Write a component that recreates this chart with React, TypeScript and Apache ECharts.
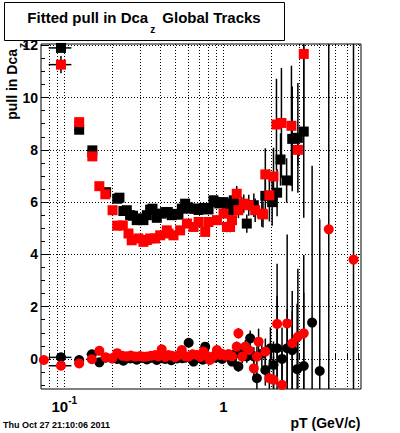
import React, { useEffect, useRef } from "react";
import * as echarts from "echarts";

// [pT, pull, yError, xHalfWidth]
const blackSquares: number[][] = [
  [0.0953, 11.9, 0.12, 0.0155], [0.124, 8.77, 0.1, 0.0085], [0.150, 7.98, 0.1, 0.011],
  [0.183, 6.38, 0.08, 0], [0.215, 6.13, 0.08, 0], [0.222, 6.17, 0.08, 0], [0.235, 5.66, 0.08, 0],
  [0.247, 5.69, 0.08, 0], [0.259, 5.50, 0.08, 0], [0.270, 5.48, 0.08, 0], [0.285, 5.31, 0.08, 0],
  [0.297, 5.38, 0.08, 0], [0.314, 5.31, 0.08, 0], [0.330, 5.50, 0.08, 0], [0.346, 5.71, 0.08, 0],
  [0.358, 5.75, 0.08, 0], [0.381, 5.40, 0.08, 0], [0.409, 5.56, 0.08, 0], [0.430, 5.62, 0.08, 0],
  [0.447, 5.62, 0.08, 0], [0.473, 5.50, 0.08, 0], [0.495, 5.55, 0.08, 0], [0.521, 5.52, 0.08, 0],
  [0.547, 5.75, 0.1, 0], [0.574, 5.94, 0.1, 0], [0.600, 5.80, 0.1, 0], [0.625, 5.75, 0.1, 0],
  [0.660, 5.75, 0.1, 0], [0.697, 5.70, 0.1, 0], [0.731, 5.75, 0.1, 0], [0.765, 5.78, 0.1, 0],
  [0.805, 5.72, 0.12, 0], [0.865, 6.07, 0.12, 0], [0.890, 6.0, 0.12, 0], [0.940, 5.95, 0.15, 0],
  [1.00, 6.0, 0.15, 0], [1.05, 5.94, 0.2, 0], [1.10, 5.69, 0.2, 0], [1.16, 6.07, 0.25, 0],
  [1.22, 5.88, 0.3, 0], [1.30, 5.90, 0.3, 0], [1.40, 5.18, 0.35, 0], [1.55, 5.88, 0.45, 0],
  [1.83, 6.24, 0.8, 0], [2.02, 6.0, 0.9, 0], [2.17, 6.36, 0.9, 0], [2.28, 7.63, 1.0, 0],
  [2.49, 6.83, 0.85, 0], [2.70, 8.42, 2.0, 0], [2.93, 8.46, 2.1, 0], [3.19, 8.70, 3.3, 0],
];

const redSquares: number[][] = [
  [0.0953, 11.26, 0.33, 0.0155], [0.124, 9.06, 0.12, 0.0085], [0.150, 7.75, 0.1, 0.011],
  [0.166, 6.61, 0.08, 0], [0.181, 6.30, 0.08, 0], [0.201, 5.69, 0.08, 0], [0.215, 5.10, 0.08, 0],
  [0.233, 5.11, 0.08, 0], [0.253, 4.80, 0.08, 0], [0.265, 4.54, 0.08, 0], [0.292, 4.61, 0.08, 0],
  [0.314, 4.48, 0.08, 0], [0.330, 4.55, 0.08, 0], [0.346, 4.61, 0.08, 0], [0.372, 4.61, 0.08, 0],
  [0.400, 4.73, 0.08, 0], [0.440, 4.92, 0.08, 0], [0.451, 4.80, 0.08, 0], [0.485, 4.73, 0.08, 0],
  [0.534, 4.92, 0.1, 0], [0.589, 5.18, 0.1, 0], [0.648, 5.05, 0.1, 0], [0.697, 5.24, 0.1, 0],
  [0.767, 4.86, 0.12, 0], [0.805, 5.24, 0.12, 0], [0.909, 5.31, 0.15, 0], [1.00, 5.56, 0.15, 0],
  [1.05, 5.05, 0.2, 0], [1.10, 5.05, 0.2, 0], [1.13, 5.31, 0.2, 0], [1.21, 6.32, 0.3, 0],
  [1.24, 5.69, 0.3, 0], [1.34, 5.94, 0.35, 0], [1.44, 5.88, 0.4, 0], [1.58, 5.69, 0.45, 0],
  [1.74, 5.56, 0.5, 0], [1.77, 5.53, 0.5, 0], [1.83, 7.06, 1.0, 0], [1.94, 6.26, 1.0, 0],
  [2.06, 6.98, 1.1, 0], [2.15, 8.97, 1.75, 0], [2.31, 9.03, 2.1, 0], [2.67, 8.92, 2.3, 0],
  [2.93, 8.0, 0.6, 0], [3.19, 11.67, 3.0, 0],
];

const blackCircles: number[][] = [
  [0.0953, 0.06, 0.12, 0.0155], [0.124, -0.04, 0.08, 0.0085], [0.149, 0.18, 0.07, 0.011],
  [0.166, -0.13, 0.07, 0.006], [0.182, 0.05, 0.06, 0], [0.200, 0.02, 0.06, 0], [0.215, 0.0, 0.06, 0],
  [0.235, -0.07, 0.06, 0], [0.260, 0.02, 0.06, 0], [0.285, -0.03, 0.06, 0], [0.310, 0.04, 0.06, 0],
  [0.330, -0.02, 0.06, 0], [0.355, 0.05, 0.06, 0], [0.381, -0.04, 0.06, 0], [0.410, 0.03, 0.06, 0],
  [0.430, 0.0, 0.06, 0], [0.470, -0.05, 0.06, 0], [0.510, 0.02, 0.07, 0], [0.550, 0.03, 0.07, 0],
  [0.575, 0.05, 0.07, 0], [0.604, 0.62, 0.08, 0], [0.625, 0.1, 0.08, 0], [0.648, -0.1, 0.08, 0],
  [0.700, 0.05, 0.08, 0], [0.740, -0.03, 0.1, 0], [0.767, 0.47, 0.1, 0], [0.820, -0.02, 0.1, 0],
  [0.890, 0.05, 0.12, 0], [0.980, 0.0, 0.12, 0], [1.05, 0.1, 0.15, 0], [1.13, -0.1, 0.15, 0],
  [1.19, 0.2, 0.2, 0], [1.24, -0.29, 0.2, 0], [1.31, 0.28, 0.25, 0], [1.40, 0.1, 0.25, 0],
  [1.47, 0.79, 0.3, 0], [1.55, 0.1, 0.35, 0], [1.62, -0.74, 0.5, 0], [1.74, 0.2, 0.5, 0],
  [1.83, -0.42, 0.6, 0], [1.97, 0.41, 0.8, 0], [2.06, -0.23, 0.9, 0], [2.17, 0.41, 2.0, 0],
  [2.33, 0.0, 1.2, 0], [2.51, 0.41, 1.5, 0], [2.70, 0.34, 1.5, 0], [2.90, -0.39, 2.5, 0],
  [3.19, -0.27, 2.8, 0], [3.60, 1.39, 6.0, 0], [4.02, -0.46, 5.8, 0],
];

const redCircles: number[][] = [
  [0.0744, -0.04, 0.15, 0.004], [0.0953, -0.26, 0.1, 0.0155], [0.124, -0.17, 0.08, 0.0085],
  [0.149, -0.01, 0.07, 0.011], [0.166, 0.31, 0.07, 0.006], [0.182, 0.06, 0.06, 0], [0.200, 0.03, 0.06, 0],
  [0.215, 0.22, 0.06, 0], [0.232, 0.12, 0.06, 0], [0.247, 0.10, 0.06, 0], [0.262, 0.13, 0.06, 0],
  [0.280, 0.09, 0.06, 0], [0.299, 0.11, 0.06, 0], [0.315, 0.08, 0.06, 0], [0.330, 0.09, 0.06, 0],
  [0.350, 0.12, 0.06, 0], [0.372, 0.15, 0.06, 0], [0.390, 0.10, 0.06, 0], [0.409, 0.37, 0.06, 0],
  [0.430, 0.08, 0.06, 0], [0.451, 0.15, 0.06, 0], [0.475, 0.12, 0.06, 0], [0.497, 0.06, 0.07, 0],
  [0.520, 0.14, 0.07, 0], [0.547, 0.34, 0.07, 0], [0.575, 0.10, 0.07, 0], [0.604, 0.09, 0.08, 0],
  [0.640, 0.18, 0.08, 0], [0.681, 0.15, 0.08, 0], [0.715, 0.08, 0.08, 0], [0.748, 0.28, 0.1, 0],
  [0.785, 0.12, 0.1, 0], [0.820, -0.04, 0.1, 0], [0.865, 0.10, 0.1, 0], [0.909, 0.34, 0.12, 0],
  [0.950, 0.15, 0.12, 0], [0.977, 0.2, 0.12, 0], [1.03, 0.12, 0.15, 0], [1.075, 0.19, 0.15, 0],
  [1.13, 0.10, 0.15, 0], [1.21, 0.47, 0.2, 0], [1.24, 0.98, 0.2, 0], [1.31, 0.09, 0.25, 0],
  [1.37, 0.47, 0.25, 0], [1.44, 0.34, 0.3, 0], [1.55, -0.36, 0.4, 0], [1.62, 0.09, 0.4, 0],
  [1.66, 0.66, 0.5, 0], [1.83, 0.28, 0.5, 0], [1.94, -0.74, 0.7, 0], [2.06, -0.80, 0.9, 0],
  [2.17, 1.34, 2.3, 0], [2.33, -0.99, 1.3, 0], [2.51, 1.36, 3.4, 0], [2.70, 0.60, 2.0, 0],
  [2.93, 0.85, 2.6, 0], [3.19, 0.98, 3.0, 0], [4.58, 4.96, 9.0, 0], [6.55, 3.8, 10.0, 0],
];

const xMajorTicks = [0.1, 1];
const xMinorTicks = [0.08, 0.09, 0.2, 0.3, 0.4, 0.5, 0.6, 0.7, 0.8, 0.9, 2, 3, 4, 5, 6, 7];
const yMajorTicks = [0, 2, 4, 6, 8, 10, 12];
const yMinorTicks = [-1, -0.5, 0.5, 1, 1.5, 2.5, 3, 3.5, 4.5, 5, 5.5, 6.5, 7, 7.5, 8.5, 9, 9.5, 10.5, 11, 11.5];

const titleMain = "Fitted pull in Dca";
const titleSub = "z";
const titleRest = " Global Tracks";
const yTitle = "pull in Dca";
const xTitle = "pT (GeV/c)";
const dateText = "Thu Oct 27 21:10:06 2011";

const FONT = "'Liberation Sans', Arial, sans-serif";

export default function App() {
  const ref = useRef<HTMLDivElement>(null);
  useEffect(() => {
    if (!ref.current) return;
    const chart = echarts.init(ref.current, null, { renderer: "svg" });

    const errRender = (params: any, api: any) => {
      const x = api.value(0), y = api.value(1), ey = api.value(2), ex = api.value(3);
      const c = api.coord([x, y]);
      const children: any[] = [];
      const st = { stroke: "#000", lineWidth: 1.5 };
      if (ey > 0) {
        const t = api.coord([x, y + ey]);
        const b = api.coord([x, y - ey]);
        children.push({ type: "line", shape: { x1: c[0], y1: t[1], x2: c[0], y2: b[1] }, style: st });
      }
      if (ex > 0) {
        const l = api.coord([x - ex, y]);
        const r = api.coord([x + ex, y]);
        children.push({ type: "line", shape: { x1: l[0], y1: c[1], x2: r[0], y2: c[1] }, style: st });
      }
      return { type: "group", children };
    };

    const mk = (data: number[][], color: string, symbol: string) => [
      {
        type: "custom", renderItem: errRender, data, clip: true, silent: true,
        encode: { x: 0, y: 1 }, xAxisIndex: 0, yAxisIndex: 0,
      },
      {
        type: "scatter", data: data.map((d) => [d[0], d[1]]), symbol, symbolSize: 10,
        itemStyle: { color, opacity: 1 }, xAxisIndex: 0, yAxisIndex: 0, silent: true, clip: true,
      },
    ];

    const dotted = { color: "#000", width: 1, type: [1, 2] as any };
    const xRange = { min: 0.0714, max: 7.3 };
    const yRange = { min: -1.15, max: 12.05 };

    chart.setOption({
      animation: false,
      backgroundColor: "#fff",
      textStyle: { fontFamily: FONT },
      grid: { left: 41, right: 39, top: 44, bottom: 44, show: true, borderColor: "#000", borderWidth: 1, backgroundColor: "transparent" },
      xAxis: [
        {
          type: "log", logBase: 10, ...xRange, position: "bottom",
          axisLine: { show: false },
          axisTick: { show: true, inside: true, length: 9, customValues: xMajorTicks, lineStyle: { color: "#000", width: 1 } },
          axisLabel: {
            customValues: xMajorTicks, margin: 6, color: "#000",
            formatter: (v: number) => (Math.abs(v - 0.1) < 1e-6 ? "{b|10}{s|-1}" : "{b|1}"),
            rich: {
              b: { fontSize: 15, fontWeight: "bold", fontFamily: FONT, color: "#000", lineHeight: 22 },
              s: { fontSize: 10, fontWeight: "bold", fontFamily: FONT, color: "#000", lineHeight: 7, verticalAlign: "top" },
            },
          },
          splitLine: { show: true, lineStyle: dotted },
        },
        {
          type: "log", logBase: 10, ...xRange, position: "bottom",
          axisLine: { show: false },
          axisTick: { show: true, inside: true, length: 5, customValues: xMinorTicks, lineStyle: { color: "#000", width: 1 } },
          axisLabel: { show: false },
          splitLine: { show: true, lineStyle: dotted },
        },
      ],
      yAxis: [
        {
          type: "value", ...yRange, position: "left",
          axisLine: { show: false },
          axisTick: { show: true, inside: true, length: 8, customValues: yMajorTicks, lineStyle: { color: "#000", width: 1 } },
          axisLabel: { customValues: yMajorTicks, margin: 3, color: "#000", fontSize: 14, fontWeight: "bold", fontFamily: FONT },
          splitLine: { show: true, lineStyle: dotted },
        },
        {
          type: "value", ...yRange, position: "left",
          axisLine: { show: false },
          axisTick: { show: true, inside: true, length: 4, customValues: yMinorTicks, lineStyle: { color: "#000", width: 1 } },
          axisLabel: { show: false },
          splitLine: { show: false },
        },
      ],
      series: [
        ...mk(blackSquares, "#000000", "rect"),
        ...mk(redSquares, "#ff0000", "rect"),
        ...mk(blackCircles, "#000000", "circle"),
        ...mk(redCircles, "#ff0000", "circle"),
      ],
      graphic: [
        { type: "rect", shape: { x: 4.5, y: 2.5, width: 280, height: 38 }, style: { fill: "#fff", stroke: "#000", lineWidth: 1 }, z: 10 },
        {
          type: "text", x: 144, y: 17, z: 11,
          style: {
            text: `{t|${titleMain}}{s|${titleSub}}{t|${titleRest}}`,
            align: "center", verticalAlign: "middle", textAlign: "center", textVerticalAlign: "middle",
            rich: {
              t: { fontSize: 15, fontWeight: "bold", fontFamily: FONT, fill: "#000", lineHeight: 34 },
              s: { fontSize: 10, fontWeight: "bold", fontFamily: FONT, fill: "#000", lineHeight: 10, verticalAlign: "bottom", padding: [0, 3, 0, 2] },
            },
          } as any,
        },
        {
          type: "text", x: 12, y: 43, rotation: Math.PI / 2, z: 11,
          style: {
            text: `{t|${yTitle}}{s|${titleSub}}`,
            align: "right", verticalAlign: "middle", textAlign: "right", textVerticalAlign: "middle",
            rich: {
              t: { fontSize: 14, fontWeight: "bold", fontFamily: FONT, fill: "#000", lineHeight: 30 },
              s: { fontSize: 10, fontWeight: "bold", fontFamily: FONT, fill: "#000", lineHeight: 10, verticalAlign: "bottom", padding: [0, 0, 0, 1] },
            },
          } as any,
        },
        {
          type: "text", x: 360.5, y: 423, z: 11,
          style: { text: xTitle, font: `bold 14px ${FONT}`, fill: "#000", align: "right", verticalAlign: "middle", textAlign: "right", textVerticalAlign: "middle" } as any,
        },
        {
          type: "text", x: 3, y: 424.5, z: 11,
          style: { text: dateText, font: `bold 9px ${FONT}`, fill: "#000", align: "left", verticalAlign: "middle", textAlign: "left", textVerticalAlign: "middle" } as any,
        },
      ],
    });
    return () => chart.dispose();
  }, []);
  return <div ref={ref} style={{ position: "fixed", left: 0, top: 0, width: 400, height: 433, background: "#fff" }} />;
}
